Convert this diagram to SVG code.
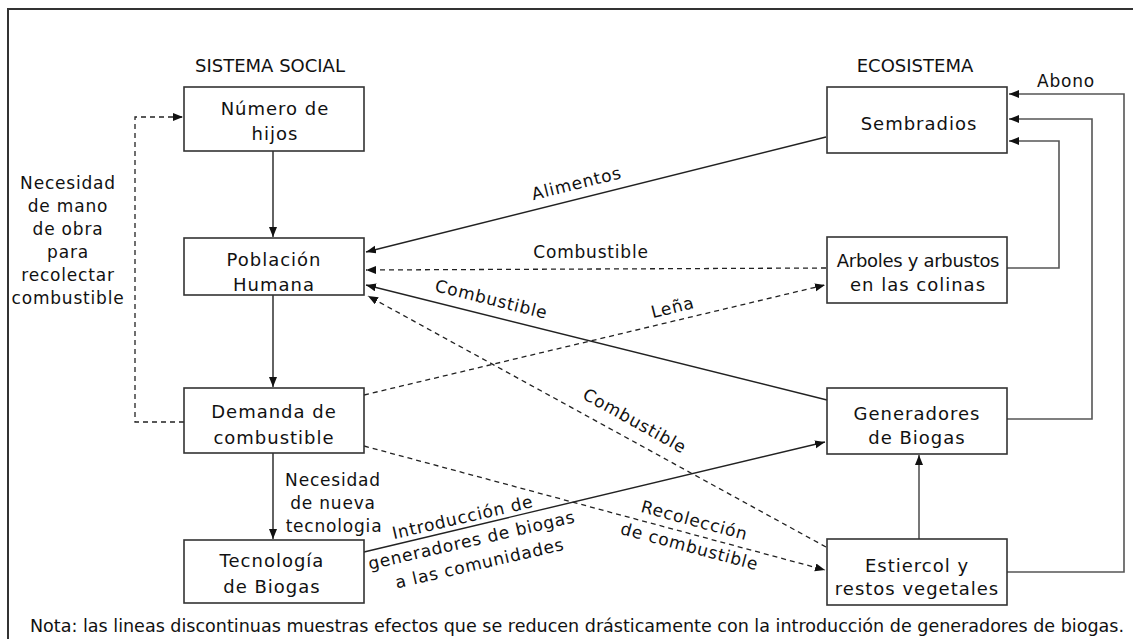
<svg xmlns="http://www.w3.org/2000/svg" width="1133" height="639" viewBox="0 0 1133 639">
  <defs>
    <style>
      .frame { fill: none; stroke: #333; stroke-width: 2; }
      .box { fill: #fff; stroke: #333; stroke-width: 1.6; }
      .t { font-family: 'DejaVu Sans', sans-serif; font-size: 18px; letter-spacing: 1px; fill: #111; text-anchor: middle; }
      .lbl { font-family: 'DejaVu Sans', sans-serif; font-size: 17px; letter-spacing: 0.8px; fill: #111; text-anchor: middle; }
      .head { font-family: 'DejaVu Sans', sans-serif; font-size: 18px; fill: #111; text-anchor: middle; }
      .solid { fill: none; stroke: #222; stroke-width: 1.4; }
      .dash { fill: none; stroke: #222; stroke-width: 1.3; stroke-dasharray: 5 4; }
      .loop { fill: none; stroke: #555; stroke-width: 1.6; }
    </style>
    <marker id="arr" markerUnits="userSpaceOnUse" markerWidth="11" markerHeight="9" refX="10" refY="4" orient="auto">
      <path d="M0,0 L10,4 L0,8 z" fill="#111"/>
    </marker>
  </defs>

  <rect width="1133" height="639" fill="#fff"/>
  <!-- outer frame (left and top edges) -->
  <path class="frame" d="M8,639 V9 H1133"/>

  <!-- column headings -->
  <text class="head" x="270" y="72">SISTEMA SOCIAL</text>
  <text class="head" x="915" y="72">ECOSISTEMA</text>

  <!-- connectors -->
  <g id="connectors">
    <!-- social system chain -->
    <path class="solid" d="M273,151 V237" marker-end="url(#arr)"/>
    <path class="solid" d="M273,295 V387" marker-end="url(#arr)"/>
    <path class="solid" d="M273,453 V539" marker-end="url(#arr)"/>
    <path class="dash" d="M184,422 H135 V117 H183" marker-end="url(#arr)"/>

    <!-- flows into Población Humana -->
    <path class="solid" d="M826,137 L366,252" marker-end="url(#arr)"/>
    <path class="dash" d="M826,268 L366,270" marker-end="url(#arr)"/>
    <path class="solid" d="M827,400 L366,285" marker-end="url(#arr)"/>
    <path class="dash" d="M826,547 L368,296" marker-end="url(#arr)"/>

    <!-- flows out of Demanda / Tecnología -->
    <path class="dash" d="M364,395 L825,285" marker-end="url(#arr)"/>
    <path class="dash" d="M364,446 L825,570" marker-end="url(#arr)"/>
    <path class="solid" d="M364,552 L825,442" marker-end="url(#arr)"/>

    <!-- ecosystem feedback loops -->
    <path class="loop" d="M1007,268 H1059 V141 H1009" marker-end="url(#arr)"/>
    <path class="loop" d="M1007,419 H1092 V119 H1009" marker-end="url(#arr)"/>
    <path class="loop" d="M1007,572 H1124 V94 H1009" marker-end="url(#arr)"/>
    <path class="loop" d="M919,539 V455" marker-end="url(#arr)"/>

    <!-- connector labels -->
    <text class="lbl" x="578" y="189" transform="rotate(-14 578 189)">Alimentos</text>
    <text class="lbl" x="591" y="258">Combustible</text>
    <text class="lbl" x="490" y="305" transform="rotate(14 490 305)">Combustible</text>
    <text class="lbl" x="632" y="426" transform="rotate(29 632 426)">Combustible</text>
    <text class="lbl" x="674" y="313" transform="rotate(-14 674 313)">Leña</text>
    <text class="lbl" x="693" y="526" transform="rotate(15 693 526)">Recolección</text>
    <text class="lbl" x="688" y="552" transform="rotate(15 688 552)">de combustible</text>
    <text class="lbl" x="464" y="523" transform="rotate(-13 464 523)">Introducción de</text>
    <text class="lbl" x="473" y="546" transform="rotate(-13 473 546)">generadores de biogas</text>
    <text class="lbl" x="481" y="569" transform="rotate(-13 481 569)">a las comunidades</text>
    <text class="lbl" x="333" y="486">Necesidad</text>
    <text class="lbl" x="333" y="509">de nueva</text>
    <text class="lbl" x="334" y="532">tecnologia</text>
    <text class="lbl" x="68" y="189">Necesidad</text>
    <text class="lbl" x="68" y="212">de mano</text>
    <text class="lbl" x="68" y="235">de obra</text>
    <text class="lbl" x="68" y="258">para</text>
    <text class="lbl" x="68" y="281">recolectar</text>
    <text class="lbl" x="68" y="304">combustible</text>
    <text class="lbl" x="1066" y="87">Abono</text>
  </g>

  <!-- social system nodes -->
  <g id="numero-hijos">
    <rect class="box" x="184" y="87" width="180" height="64"/>
    <text class="t" x="275" y="115">Número de</text>
    <text class="t" x="275" y="140">hijos</text>
  </g>
  <g id="poblacion-humana">
    <rect class="box" x="184" y="238" width="180" height="57"/>
    <text class="t" x="274" y="266">Población</text>
    <text class="t" x="274" y="291">Humana</text>
  </g>
  <g id="demanda-combustible">
    <rect class="box" x="184" y="388" width="180" height="65"/>
    <text class="t" x="274" y="418">Demanda de</text>
    <text class="t" x="274" y="444">combustible</text>
  </g>
  <g id="tecnologia-biogas">
    <rect class="box" x="184" y="540" width="180" height="63"/>
    <text class="t" x="272" y="567">Tecnología</text>
    <text class="t" x="272" y="593">de Biogas</text>
  </g>

  <!-- ecosystem nodes -->
  <g id="sembradios">
    <rect class="box" x="827" y="87" width="180" height="66"/>
    <text class="t" x="919" y="130">Sembradios</text>
  </g>
  <g id="arboles">
    <rect class="box" x="827" y="237" width="180" height="66"/>
    <text class="t" x="918" y="267" style="letter-spacing:-0.3px">Arboles y arbustos</text>
    <text class="t" x="918" y="291">en las colinas</text>
  </g>
  <g id="generadores">
    <rect class="box" x="827" y="388" width="180" height="66"/>
    <text class="t" x="917" y="420">Generadores</text>
    <text class="t" x="917" y="444">de Biogas</text>
  </g>
  <g id="estiercol">
    <rect class="box" x="827" y="539" width="180" height="66"/>
    <text class="t" x="917" y="572">Estiercol y</text>
    <text class="t" x="917" y="595">restos vegetales</text>
  </g>

  <!-- footnote -->
  <text x="30" y="632" textLength="1094" lengthAdjust="spacingAndGlyphs" font-family="'DejaVu Sans', sans-serif" font-size="17" fill="#111">Nota: las lineas discontinuas muestras efectos que se reducen drásticamente con la introducción de generadores de biogas.</text>
</svg>
